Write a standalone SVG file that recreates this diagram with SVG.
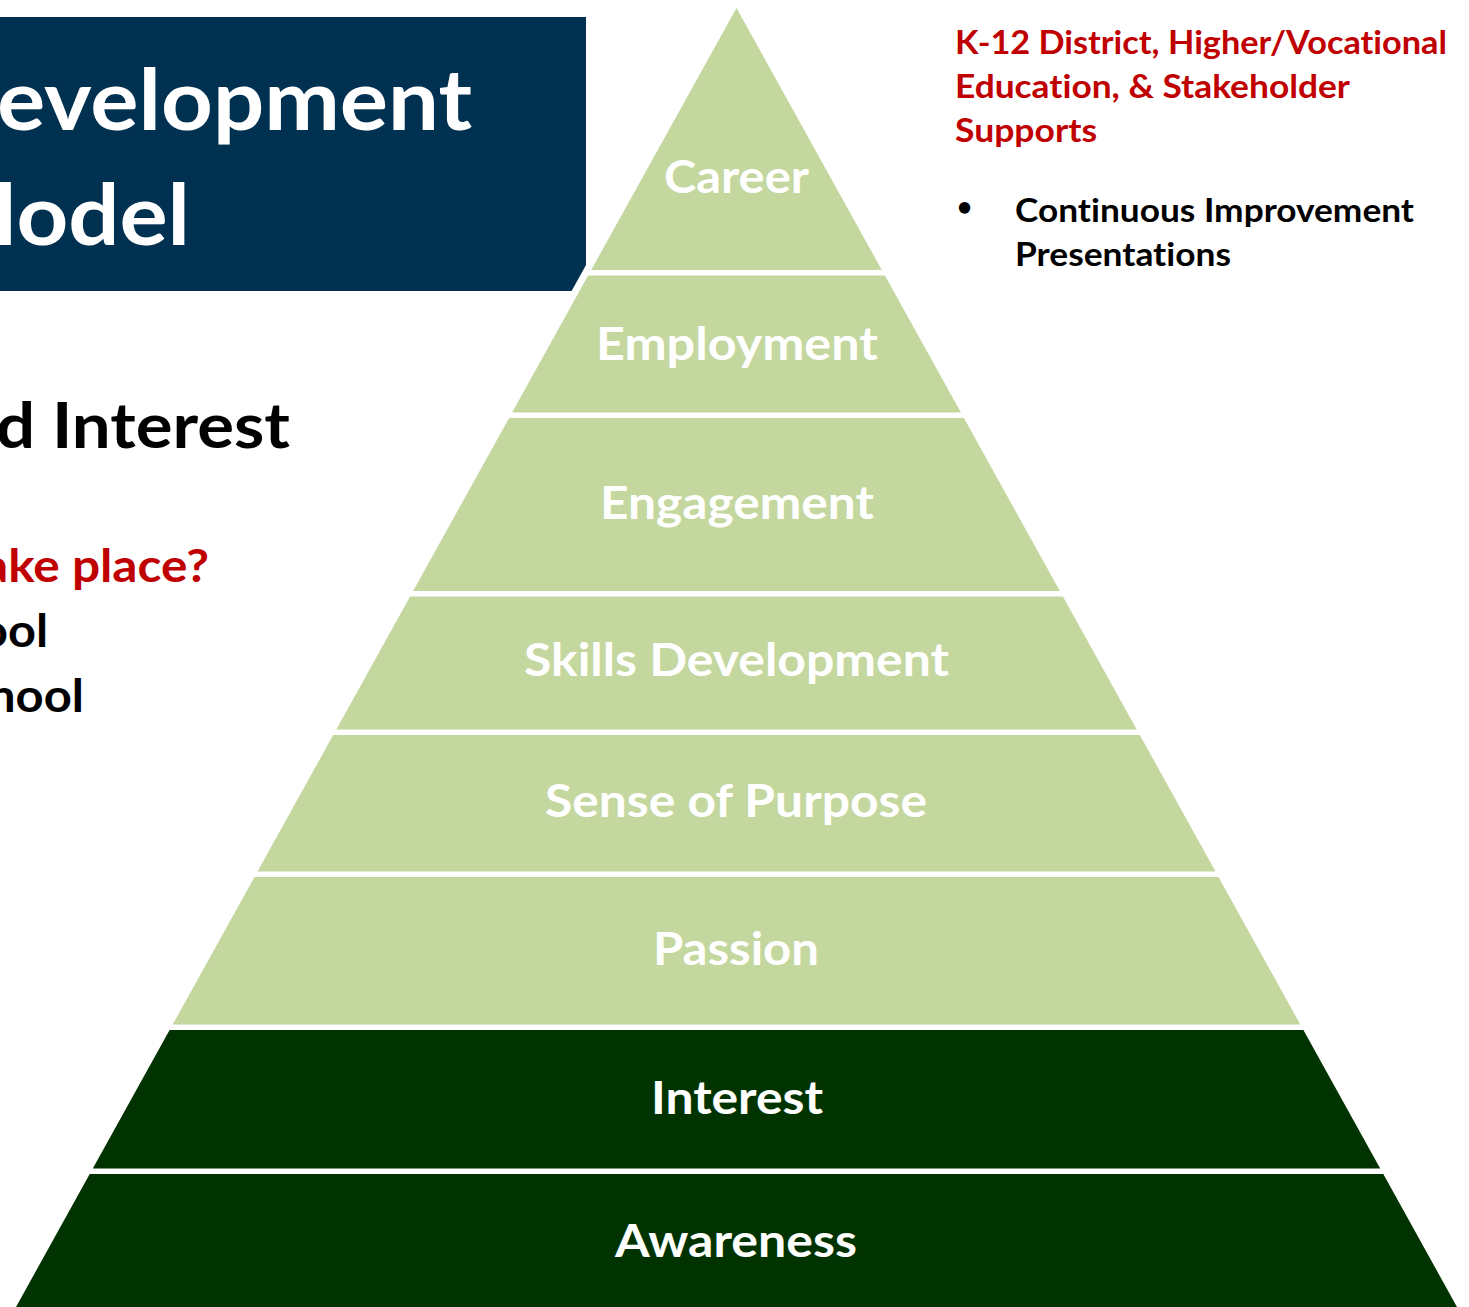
<svg xmlns="http://www.w3.org/2000/svg" width="1469" height="1307" viewBox="0 0 1469 1307">
<style>
.t{font-family:Lato,"Open Sans","Liberation Sans",sans-serif;font-weight:700;font-variant-ligatures:none}
.lbl{fill:#ffffff;font-size:45px}
.light{fill:#C4D79F}
.dark{fill:#003300}
.red{fill:#C00000}
.blk{fill:#000000}
</style>
<rect width="1469" height="1307" fill="#ffffff"/>
<g id="title">
<path d="M0,17 H586 V265 L571.6,291 H0 Z" fill="#003150"/>
<text class="t" x="-3" y="130" font-size="85" fill="#ffffff" textLength="475" lengthAdjust="spacingAndGlyphs">evelopment</text>
<text class="t" x="-6" y="245" font-size="85" fill="#ffffff" textLength="196" lengthAdjust="spacingAndGlyphs">lodel</text>
</g>
<g id="left-text">
<text class="t blk" x="-4" y="448" font-size="63" textLength="294" lengthAdjust="spacingAndGlyphs">d Interest</text>
<text class="t red" x="-17" y="582" font-size="46" textLength="226" lengthAdjust="spacingAndGlyphs">ake place?</text>
<text class="t blk" x="-20" y="647" font-size="46" textLength="68" lengthAdjust="spacingAndGlyphs">ool</text>
<text class="t blk" x="-12" y="712" font-size="46" textLength="96" lengthAdjust="spacingAndGlyphs">hool</text>
</g>
<g id="supports">
<text class="t red" x="955" y="54" font-size="32" textLength="492" lengthAdjust="spacingAndGlyphs">K-12 District, Higher/Vocational</text>
<text class="t red" x="955" y="98" font-size="32" textLength="395" lengthAdjust="spacingAndGlyphs">Education, &amp; Stakeholder</text>
<text class="t red" x="955" y="142" font-size="32" textLength="142" lengthAdjust="spacingAndGlyphs">Supports</text>
<text class="t blk" x="957" y="216" font-size="26">•</text>
<text class="t blk" x="1015" y="222" font-size="32" textLength="399" lengthAdjust="spacingAndGlyphs">Continuous Improvement</text>
<text class="t blk" x="1015" y="266" font-size="32" textLength="216" lengthAdjust="spacingAndGlyphs">Presentations</text>
</g>
<g id="layer-career">
<polygon class="light" points="736.5,8 881.8,270 591.2,270"/>
<text class="t lbl" x="664" y="193" textLength="145" lengthAdjust="spacingAndGlyphs">Career</text>
</g>
<g id="layer-employment">
<polygon class="light" points="588.1,275.5 884.9,275.5 960.9,412.5 512.1,412.5"/>
<text class="t lbl" x="596" y="360" textLength="282" lengthAdjust="spacingAndGlyphs">Employment</text>
</g>
<g id="layer-engagement">
<polygon class="light" points="509.1,418 963.9,418 1059.9,591 413.1,591"/>
<text class="t lbl" x="600" y="519" textLength="274" lengthAdjust="spacingAndGlyphs">Engagement</text>
</g>
<g id="layer-skills">
<polygon class="light" points="410.1,596.5 1062.9,596.5 1136.7,729.5 336.3,729.5"/>
<text class="t lbl" x="524" y="676" textLength="425" lengthAdjust="spacingAndGlyphs">Skills Development</text>
</g>
<g id="layer-purpose">
<polygon class="light" points="333.2,735 1139.8,735 1215.5,871.5 257.5,871.5"/>
<text class="t lbl" x="545" y="817" textLength="382" lengthAdjust="spacingAndGlyphs">Sense of Purpose</text>
</g>
<g id="layer-passion">
<polygon class="light" points="254.5,877 1218.5,877 1300.3,1024.5 172.7,1024.5"/>
<text class="t lbl" x="653" y="965" textLength="166" lengthAdjust="spacingAndGlyphs">Passion</text>
</g>
<g id="layer-interest">
<polygon class="dark" points="169.6,1030 1303.4,1030 1380.2,1168.5 92.8,1168.5"/>
<text class="t lbl" x="651" y="1114" textLength="172" lengthAdjust="spacingAndGlyphs">Interest</text>
</g>
<g id="layer-awareness">
<polygon class="dark" points="89.7,1174 1383.3,1174 1457,1307 16,1307"/>
<text class="t lbl" x="615" y="1257" textLength="242" lengthAdjust="spacingAndGlyphs">Awareness</text>
</g>
<g id="connectors"/>
</svg>
